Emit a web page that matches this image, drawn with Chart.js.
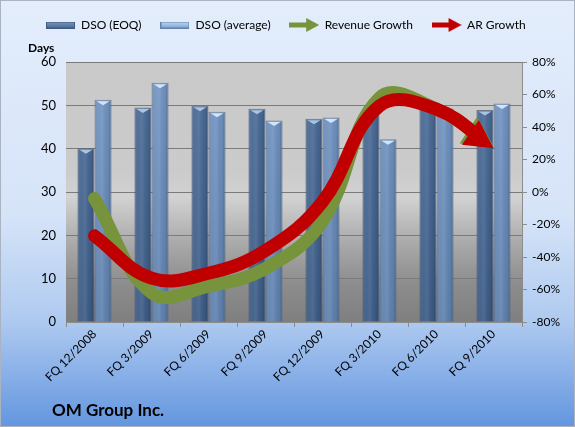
<!DOCTYPE html>
<html><head><meta charset="utf-8">
<script src="https://cdn.jsdelivr.net/npm/chart.js@4/dist/chart.umd.min.js"></script>
<style>html,body{margin:0;padding:0;background:#fff}#wrap{width:575px;height:427px;position:relative}canvas{display:block}</style>
</head><body><div id="wrap"><canvas id="c" width="575" height="427"></canvas></div>
<script>
const categories = ['FQ 12/2008','FQ 3/2009','FQ 6/2009','FQ 9/2009','FQ 12/2009','FQ 3/2010','FQ 6/2010','FQ 9/2010'];
const dsoEOQ = [40.1, 49.5, 49.9, 49.2, 46.9, 48.3, 50.5, 48.9];
const dsoAverage = [51.3, 55.2, 48.5, 46.5, 47.2, 42.2, 49.3, 50.4];
const revenueGrowth = [-4, -62, -58, -47, -18, 58, 51, 28];
const arGrowth = [-27, -53, -50, -36, -6, 53, 51, 27];
const daysTicks = [0, 10, 20, 30, 40, 50, 60];
const pctTicks = [-80, -60, -40, -20, 0, 20, 40, 60, 80];
const seriesNames = ['DSO (EOQ)', 'DSO (average)', 'Revenue Growth', 'AR Growth'];
const chartTitle = 'OM Group Inc.';
const leftAxisTitle = 'Days';

const FONT = 'Lato, "Open Sans", sans-serif';
const GREEN = '#77933c', RED = '#c00000';

function barSwatch(top, bottom, border) {
  const c = document.createElement('canvas'); c.width = 29; c.height = 7;
  const x = c.getContext('2d');
  const g = x.createLinearGradient(0, 0, 0, 7);
  g.addColorStop(0, top); g.addColorStop(1, bottom);
  x.fillStyle = g; x.fillRect(0, 0, 29, 7);
  x.strokeStyle = border; x.lineWidth = 1; x.strokeRect(0.5, 0.5, 28, 6);
  return c;
}
function arrowSwatch(color) {
  const c = document.createElement('canvas'); c.width = 30; c.height = 14;
  const x = c.getContext('2d');
  x.fillStyle = color;
  x.fillRect(0, 4.5, 20, 5);
  x.beginPath(); x.moveTo(17, 0); x.lineTo(30, 7); x.lineTo(17, 14); x.closePath(); x.fill();
  return c;
}
const legendImgs = [
  barSwatch('#7d97bb', '#4a6892', '#3e5a80'),
  barSwatch('#c4dcf5', '#7aa0cf', '#5f82ae'),
  arrowSwatch(GREEN),
  arrowSwatch(RED)
];

function vGrad(chart, stops, fallback) {
  const ca = chart.chartArea; if (!ca) return fallback;
  const g = chart.ctx.createLinearGradient(0, ca.top, 0, ca.bottom);
  stops.forEach(s => g.addColorStop(s[0], s[1]));
  return g;
}

const bgPlugin = {
  id: 'bg',
  beforeDraw(chart) {
    const ctx = chart.ctx, W = chart.width, H = chart.height, ca = chart.chartArea;
    ctx.save();
    const g = ctx.createLinearGradient(0, 0, 0, H);
    g.addColorStop(0, '#e3edfc'); g.addColorStop(0.5, '#d6e4f8');
    g.addColorStop(0.75, '#afcaf0'); g.addColorStop(1, '#6396df');
    ctx.fillStyle = g; ctx.fillRect(0, 0, W, H);
    ctx.strokeStyle = '#a9b3c2'; ctx.lineWidth = 1; ctx.strokeRect(0.5, 0.5, W - 1, H - 1);
    const p = ctx.createLinearGradient(0, ca.top, 0, ca.bottom);
    p.addColorStop(0, '#c9c9c9'); p.addColorStop(0.42, '#cbcbcb'); p.addColorStop(0.52, '#d2d2d2');
    p.addColorStop(0.7, '#a9a9a9'); p.addColorStop(0.85, '#8d8d8d'); p.addColorStop(1, '#7f7f7f');
    ctx.fillStyle = p; ctx.fillRect(ca.left, ca.top, ca.right - ca.left, ca.bottom - ca.top);
    ctx.restore();
  },
  afterDraw(chart) {
    const ctx = chart.ctx;
    ctx.save();
    ctx.fillStyle = '#000'; ctx.textBaseline = 'alphabetic'; ctx.textAlign = 'left';
    ctx.font = 'bold 12px ' + FONT; ctx.fillText(leftAxisTitle, 28, 52);
    ctx.font = 'bold 17px ' + FONT; ctx.fillText(chartTitle, 52, 416);
    ctx.restore();
  }
};

const barShade = {
  id: 'barShade',
  afterDatasetDraw(chart, args) {
    const meta = args.meta; if (meta.type !== 'bar') return;
    const ctx = chart.ctx, ca = chart.chartArea;
    const cap = args.index === 0 ? '#a9c4e4' : '#cfe6fb';
    ctx.save();
    ctx.beginPath(); ctx.rect(ca.left, ca.top, ca.right - ca.left, ca.bottom - ca.top); ctx.clip();
    meta.data.forEach(el => {
      const {x, y, base, width} = el.getProps(['x', 'y', 'base', 'width'], true);
      const l = x - width / 2, r = x + width / 2;
      const g = ctx.createLinearGradient(l, 0, r, 0);
      g.addColorStop(0, 'rgba(20,30,50,0.30)'); g.addColorStop(0.2, 'rgba(255,255,255,0.05)');
      g.addColorStop(0.45, 'rgba(255,255,255,0.10)'); g.addColorStop(0.8, 'rgba(0,0,0,0.04)');
      g.addColorStop(1, 'rgba(20,30,50,0.30)');
      ctx.fillStyle = g; ctx.fillRect(l + 1, y + 1, width - 2, base - y - 1);
      ctx.beginPath(); ctx.moveTo(l + 2, y + 1.5); ctx.lineTo(r - 2, y + 1.5); ctx.lineTo(x, y + 5.5); ctx.closePath();
      ctx.fillStyle = cap; ctx.fill();
    });
    ctx.restore();
  }
};

function arrowGeom(meta, ds) {
  const pts = meta.data, el = pts[pts.length - 1], prev = pts[pts.length - 2];
  const T = {x: el.x, y: el.y};
  let fx = (el.cp1x !== undefined) ? el.cp1x : prev.x, fy = (el.cp1y !== undefined) ? el.cp1y : prev.y;
  if (Math.hypot(T.x - fx, T.y - fy) < 1) { fx = prev.x; fy = prev.y; }
  const len = Math.hypot(T.x - fx, T.y - fy);
  const d = {x: (T.x - fx) / len, y: (T.y - fy) / len};
  const n = {x: -d.y, y: d.x};
  return {T, d, n, hl: ds.arrowLen, hw: ds.arrowHalf};
}
const arrowPlugin = {
  id: 'arrows',
  beforeDatasetDraw(chart, args) {
    if (args.meta.type !== 'line') return;
    const g = arrowGeom(args.meta, chart.data.datasets[args.index]);
    const ctx = chart.ctx, L = 3000;
    const c = {x: g.T.x - g.d.x * g.hl * 0.5, y: g.T.y - g.d.y * g.hl * 0.5};
    ctx.save();
    ctx.beginPath(); ctx.rect(0, 0, chart.width, chart.height);
    ctx.moveTo(c.x + g.n.x * L, c.y + g.n.y * L);
    ctx.lineTo(c.x + g.n.x * L + g.d.x * L, c.y + g.n.y * L + g.d.y * L);
    ctx.lineTo(c.x - g.n.x * L + g.d.x * L, c.y - g.n.y * L + g.d.y * L);
    ctx.lineTo(c.x - g.n.x * L, c.y - g.n.y * L);
    ctx.closePath();
    ctx.clip('evenodd');
  },
  afterDatasetDraw(chart, args) {
    if (args.meta.type !== 'line') return;
    const ctx = chart.ctx; ctx.restore();
    const ds = chart.data.datasets[args.index];
    const g = arrowGeom(args.meta, ds);
    const B = {x: g.T.x - g.d.x * g.hl, y: g.T.y - g.d.y * g.hl};
    ctx.save();
    ctx.fillStyle = ds.borderColor;
    ctx.beginPath();
    ctx.moveTo(B.x + g.n.x * g.hw, B.y + g.n.y * g.hw);
    ctx.lineTo(g.T.x, g.T.y);
    ctx.lineTo(B.x - g.n.x * g.hw, B.y - g.n.y * g.hw);
    ctx.closePath(); ctx.fill();
    ctx.restore();
  }
};

const chart = new Chart(document.getElementById('c'), {
  data: {
    labels: categories,
    datasets: [
      {type: 'bar', label: seriesNames[0], data: dsoEOQ, yAxisID: 'y', order: 2,
       backgroundColor: c => vGrad(c.chart, [[0, '#4c6d99'], [1, '#3a5a84']], '#456690'),
       borderColor: 'rgba(70,90,120,0.7)', borderWidth: 1,
       categoryPercentage: 0.6, barPercentage: 1.0},
      {type: 'bar', label: seriesNames[1], data: dsoAverage, yAxisID: 'y', order: 3,
       backgroundColor: c => vGrad(c.chart, [[0, '#7396c4'], [1, '#5d80ad']], '#6a8dba'),
       borderColor: 'rgba(80,100,130,0.7)', borderWidth: 1,
       categoryPercentage: 0.6, barPercentage: 1.0},
      {type: 'line', label: seriesNames[2], data: revenueGrowth, yAxisID: 'y1', order: 1,
       borderColor: GREEN, borderWidth: 13, tension: 0.4, pointRadius: 0, borderCapStyle: 'round',
       borderJoinStyle: 'round', fill: false, arrowLen: 30, arrowHalf: 16, clip: false},
      {type: 'line', label: seriesNames[3], data: arGrowth, yAxisID: 'y1', order: 0,
       borderColor: RED, borderWidth: 13, tension: 0.4, pointRadius: 0, borderCapStyle: 'round',
       borderJoinStyle: 'round', fill: false, arrowLen: 28, arrowHalf: 15, clip: false}
    ]
  },
  options: {
    responsive: false, devicePixelRatio: 1, animation: false, events: [],
    layout: {padding: {left: 27, top: 0, right: 0, bottom: 0}},
    plugins: {
      tooltip: {enabled: false},
      title: {display: true, text: '', weight: 500, padding: {top: 21, bottom: 0}, font: {size: 0.01}},
      legend: {
        position: 'top', align: 'start',
        labels: {
          usePointStyle: true, pointStyleWidth: 29, padding: 19, color: '#000',
          font: {size: 12, family: FONT},
          generateLabels: ch => ch.data.datasets.map((ds, i) => ({
            text: ds.label, pointStyle: legendImgs[i], fillStyle: 'transparent', strokeStyle: 'transparent',
            lineWidth: 0, hidden: false, datasetIndex: i, fontColor: '#000'
          }))
        }
      }
    },
    scales: {
      x: {
        type: 'category', offset: true,
        grid: {offset: true, drawOnChartArea: false, tickLength: 5, color: '#8c8c8c'},
        border: {color: '#8c8c8c'},
        ticks: {minRotation: 45, maxRotation: 45, color: '#000', font: {size: 12, family: FONT}, padding: 0},
        afterFit: s => { s.height = 105; }
      },
      y: {
        position: 'left', min: 0, max: 60,
        afterBuildTicks: s => { s.ticks = daysTicks.map(v => ({value: v})); },
        grid: {color: '#7b7b7b', drawTicks: false, lineWidth: 1},
        border: {display: false},
        ticks: {color: '#000', font: {size: 13, family: FONT}, padding: 10},
        afterFit: s => { s.width = 39; }
      },
      y1: {
        position: 'right', min: -80, max: 80,
        afterBuildTicks: s => { s.ticks = pctTicks.map(v => ({value: v})); },
        grid: {drawOnChartArea: false, tickLength: 5, color: '#8c8c8c'},
        border: {color: '#8c8c8c'},
        ticks: {color: '#000', font: {size: 12, family: FONT}, padding: 5, callback: v => v + '%'},
        afterFit: s => { s.width = 53; }
      }
    }
  },
  plugins: [bgPlugin, barShade, arrowPlugin]
});
</script>
</body></html>
